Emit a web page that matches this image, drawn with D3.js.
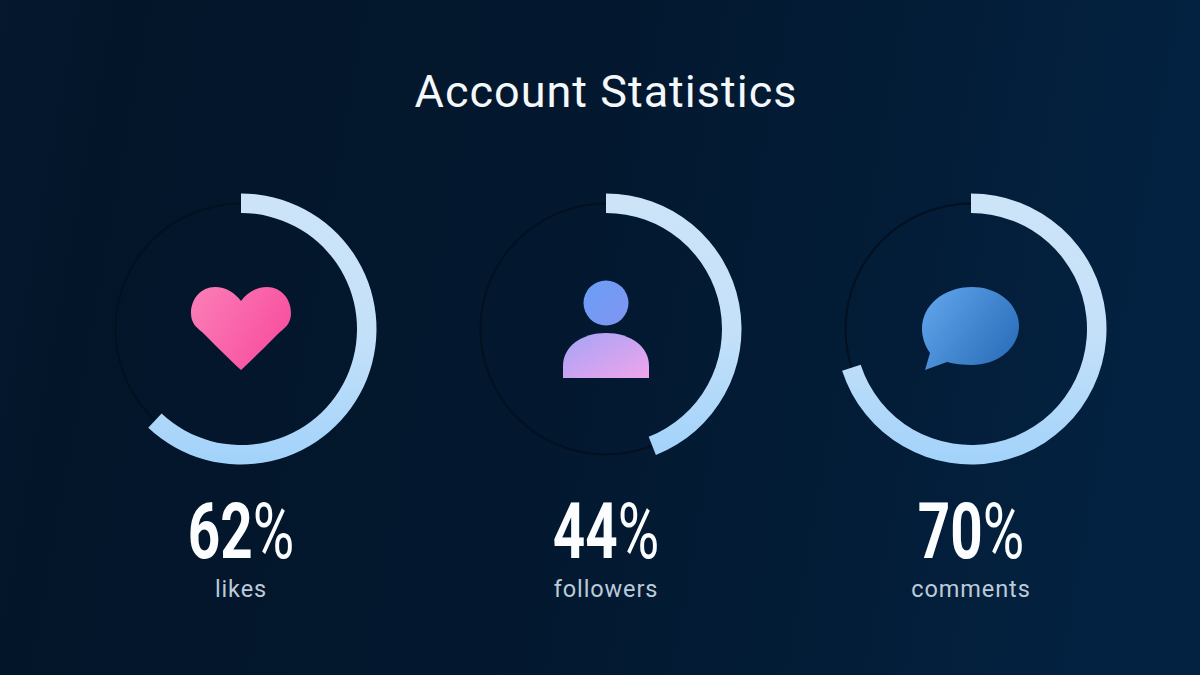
<!DOCTYPE html>
<html><head><meta charset="utf-8">
<script src="https://cdn.jsdelivr.net/npm/d3@7"></script>
<style>html,body{margin:0;padding:0;background:#03152a;overflow:hidden}svg{display:block}</style>
</head><body>
<svg id="c" width="1200" height="675"></svg>
<script>
const titleText = "Account Statistics";
const categories = ["likes","followers","comments"];
const percentValues = [62,44,70];
const valueLabels = ["62","44","70"];

const svg = d3.select("#c");
const defs = svg.append("defs");
const bg = defs.append("linearGradient").attr("id","bg").attr("x1","0").attr("y1","0").attr("x2","1").attr("y2","0.1");
[[0,"#05182e"],[0.1,"#031529"],[0.5,"#03182f"],[0.8,"#031d38"],[1,"#032241"]].forEach(s=>bg.append("stop").attr("offset",s[0]).attr("stop-color",s[1]));
const ringG = defs.append("linearGradient").attr("id","ring").attr("x1","0.5").attr("y1","0").attr("x2","0.5").attr("y2","1");
[[0,"#cde4f8"],[0.55,"#c3e0f9"],[1,"#a2d2fa"]].forEach(s=>ringG.append("stop").attr("offset",s[0]).attr("stop-color",s[1]));
const heart = defs.append("linearGradient").attr("id","heart").attr("x1","0").attr("y1","0").attr("x2","1").attr("y2","0.5");
[[0,"#fb7fb8"],[1,"#f8509f"]].forEach(s=>heart.append("stop").attr("offset",s[0]).attr("stop-color",s[1]));
const head = defs.append("linearGradient").attr("id","head").attr("x1","0").attr("y1","0").attr("x2","1").attr("y2","1");
[[0,"#6a9ef6"],[1,"#7f95f2"]].forEach(s=>head.append("stop").attr("offset",s[0]).attr("stop-color",s[1]));
const body = defs.append("linearGradient").attr("id","body").attr("x1","0").attr("y1","0").attr("x2","1").attr("y2","1");
[[0,"#a4a4f6"],[1,"#f0a4ec"]].forEach(s=>body.append("stop").attr("offset",s[0]).attr("stop-color",s[1]));
const bub = defs.append("linearGradient").attr("id","bub").attr("x1","0").attr("y1","0.2").attr("x2","1").attr("y2","0.8");
[[0,"#5ea3ea"],[1,"#2a6cb8"]].forEach(s=>bub.append("stop").attr("offset",s[0]).attr("stop-color",s[1]));

svg.append("rect").attr("width",1200).attr("height",675).attr("fill","url(#bg)");

svg.append("text").attr("x",606).attr("y",107).attr("text-anchor","middle")
  .attr("font-family","Roboto").attr("font-size",45).attr("font-weight",400).attr("letter-spacing",1).attr("fill","#f4f8fb").text(titleText);

const xScale = d3.scalePoint().domain(categories).range([241,971]);
const angle = d3.scaleLinear().domain([0,100]).range([0,2*Math.PI]);
const cy = 329;
const arcFg = d3.arc().innerRadius(116).outerRadius(135.5).startAngle(0);
const arcTrack = d3.arc().innerRadius(124.5).outerRadius(126.5).startAngle(0).endAngle(2*Math.PI);

const icons = {
  likes(g){
    g.append("path").attr("fill","url(#heart)")
     .attr("d","M0,-28 C-6,-36 -15,-42 -26,-42 C-40,-42 -50,-30 -50,-16 C-50,-6 -45,-2 -39,3 C-28,14 -12,30 0,41 C12,30 28,14 39,3 C45,-2 50,-6 50,-16 C50,-30 40,-42 26,-42 C15,-42 6,-36 0,-28 Z");
  },
  followers(g){
    g.append("circle").attr("cx",0).attr("cy",-26).attr("r",22.5).attr("fill","url(#head)");
    g.append("path").attr("fill","url(#body)")
     .attr("d","M-43,49 L-43,37 C-43,17 -24,4 0,4 C24,4 43,17 43,37 L43,49 Z");
  },
  comments(g){
    g.append("path").attr("fill","url(#bub)")
     .attr("d","M-46,41 L-41,24 C-46,17 -49,8 -49,0 C-49,-24 -27,-42 1,-42 C28,-42 48,-24 48,-3 C48,18 28,36 1,36 C-8,36 -17,35 -24,33 Z");
  }
};

categories.forEach((cat,i)=>{
  const cx = xScale(cat);
  const g = svg.append("g").attr("transform",`translate(${cx},${cy})`);
  g.append("path").attr("d",arcTrack()).attr("fill","#03101f");
  g.append("path").attr("d",arcFg({endAngle:angle(percentValues[i])})).attr("fill","url(#ring)");
  icons[cat](g.append("g"));
  const t = svg.append("g").attr("transform",`translate(${cx},558) scale(0.735,1)`);
  const tx = t.append("text").attr("text-anchor","middle").attr("font-family","Roboto")
    .attr("font-size",77).attr("fill","#fbfdfe");
  tx.append("tspan").attr("font-weight",700).text(valueLabels[i]);
  tx.append("tspan").attr("font-weight",400).text("%");
  svg.append("text").attr("x",cx).attr("y",597).attr("text-anchor","middle").attr("font-family","Roboto").attr("font-weight",400)
    .attr("font-size",23.5).attr("letter-spacing",0.9).attr("fill","#bccbd9").text(cat);
});
</script>
</body></html>
